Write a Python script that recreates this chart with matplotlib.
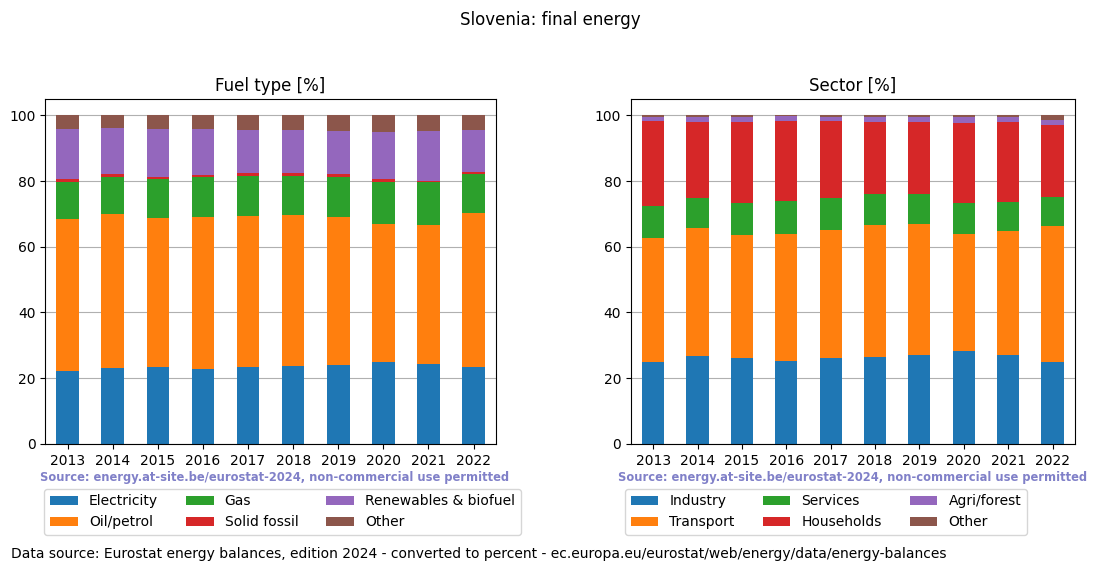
import numpy as np
import matplotlib
matplotlib.use("Agg")
import matplotlib.pyplot as plt

years = [2013, 2014, 2015, 2016, 2017, 2018, 2019, 2020, 2021, 2022]

# fuel type shares [%]
fuel_labels = ["Electricity", "Oil/petrol", "Gas", "Solid fossil", "Renewables & biofuel", "Other"]
electricity = [22.2, 23.2, 23.4, 22.8, 23.4, 23.7, 24.0, 24.9, 24.3, 23.4]
oil_petrol = [46.3, 46.8, 45.5, 46.3, 46.0, 46.0, 45.1, 42.0, 42.3, 46.9]
gas = [11.3, 11.2, 11.7, 12.1, 12.1, 11.8, 12.1, 12.9, 13.2, 11.9]
solid_fossil = [0.8, 1.0, 0.6, 0.6, 1.0, 1.0, 1.0, 0.8, 0.1, 0.6]
renewables = [15.2, 13.9, 14.6, 14.0, 13.0, 13.0, 13.0, 14.3, 15.3, 12.7]
fuel_other = [4.2, 3.9, 4.2, 4.2, 4.5, 4.5, 4.8, 5.1, 4.8, 4.5]

# sector shares [%]
sector_labels = ["Industry", "Transport", "Services", "Households", "Agri/forest", "Other"]
industry = [24.9, 26.8, 26.2, 25.3, 26.2, 26.5, 27.1, 28.3, 27.1, 24.9]
transport = [37.8, 38.9, 37.4, 38.6, 38.9, 40.1, 39.8, 35.6, 37.7, 41.4]
services = [9.7, 9.1, 9.7, 10.0, 9.7, 9.5, 9.2, 9.4, 8.8, 8.9]
households = [25.9, 23.2, 24.7, 24.4, 23.5, 21.9, 21.9, 24.4, 24.4, 21.9]
agri_forest = [1.1, 1.4, 1.4, 1.6, 1.1, 1.4, 1.4, 1.7, 1.4, 1.5]
sector_other = [0.6, 0.6, 0.6, 0.1, 0.6, 0.6, 0.6, 0.6, 0.6, 1.4]

colors = ["#1f77b4", "#ff7f0e", "#2ca02c", "#d62728", "#9467bd", "#8c564b"]
source_txt = "Source: energy.at-site.be/eurostat-2024, non-commercial use permitted"


def stacked(ax, series, labels, title, legend_x, source_x):
    x = np.arange(len(years))
    bottom = np.zeros(len(years))
    for vals, lab, col in zip(series, labels, colors):
        ax.bar(x, vals, 0.5, bottom=bottom, color=col, label=lab, zorder=2)
        bottom += np.array(vals)
    ax.set_xticks(x)
    ax.set_xticklabels([str(y) for y in years])
    ax.set_xlim(-0.5, len(years) - 0.5)
    ax.set_ylim(0, 105)
    ax.yaxis.grid(True, color="#b0b0b0", zorder=0)
    ax.set_axisbelow(True)
    ax.set_title(title, fontsize=12)
    ax.text(source_x, -0.097, source_txt, transform=ax.transAxes, ha="center", va="center",
            fontsize=8.3, fontweight="bold", color="#8080c8")
    ax.legend(loc="upper left", bbox_to_anchor=(legend_x, -0.11), ncol=3, fontsize=10)


fig = plt.figure(figsize=(11, 5.72), dpi=100)
ax1 = fig.add_axes([0.041, 0.224, 0.410, 0.603])
ax2 = fig.add_axes([0.5736, 0.224, 0.4034, 0.603])

stacked(ax1, [electricity, oil_petrol, gas, solid_fossil, renewables, fuel_other],
        fuel_labels, "Fuel type [%]", -0.017, 0.508)
stacked(ax2, [industry, transport, services, households, agri_forest, sector_other],
        sector_labels, "Sector [%]", -0.029, 0.5)

fig.suptitle("Slovenia: final energy", y=0.98, fontsize=12)
fig.text(0.01, 0.032, "Data source: Eurostat energy balances, edition 2024 - converted to percent - "
         "ec.europa.eu/eurostat/web/energy/data/energy-balances", fontsize=10, va="center")

fig.savefig("out.png", dpi=100)
